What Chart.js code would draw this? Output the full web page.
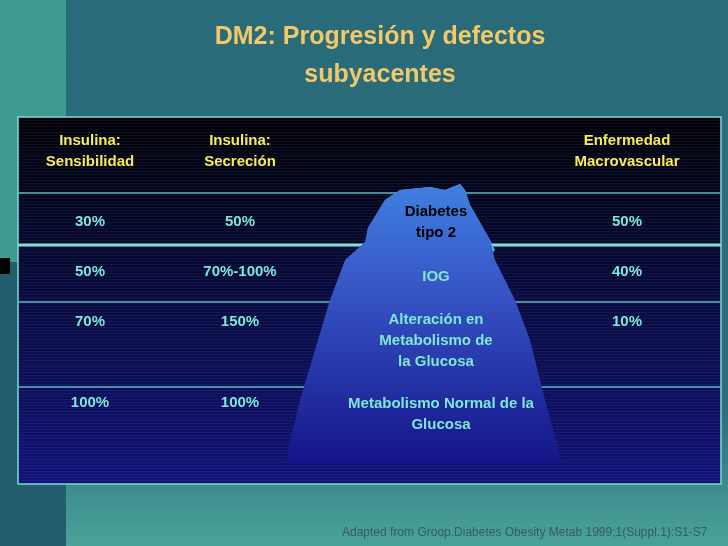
<!DOCTYPE html><html><head><meta charset="utf-8">
<script src="https://cdn.jsdelivr.net/npm/chart.js@4"></script>
<style>
html,body{margin:0;padding:0;width:728px;height:546px;overflow:hidden}
#bg{position:absolute;left:0;top:0;width:728px;height:546px;background:#3f9a92}
#main{position:absolute;left:66px;top:0;width:662px;height:546px;background:linear-gradient(180deg,#2a6b79 0%,#2c6e7a 75%,#4aa39a 100%)}
#left{position:absolute;left:0;top:262px;width:66px;height:284px;background:#235e6e}
#blk{position:absolute;left:0;top:258px;width:10px;height:16px;background:#000}
#wrap{position:absolute;left:0;top:0;width:728px;height:546px}
</style></head><body>
<div id="bg"></div><div id="main"></div><div id="left"></div><div id="blk"></div>
<div id="wrap"><canvas id="c" width="728" height="546"></canvas></div>
<script>
const titleLines=["DM2: Progresión y defectos","subyacentes"];
const headers=[["Insulina:","Sensibilidad"],["Insulina:","Secreción"],["Enfermedad","Macrovascular"]];
const colX=[90,240,627];
const rowY=[222,272,322,403];
const sensibilidad=["30%","50%","70%","100%"];
const secrecion=["50%","70%-100%","150%","100%"];
const macro=["50%","40%","10%",""];
const stages=[["Diabetes","tipo 2"],["IOG"],["Alteración en","Metabolismo de","la Glucosa"],["Metabolismo Normal de la","Glucosa"]];
const stageY=[212,277,320,404];
const rowLines=[193,245,302,387];
const icebergX=[285,300,318,330,345,365,368,385,400,430,445,460,465,470,490,495,515,530,545,562];
const icebergY=[463,400,340,300,260,242,228,200,190,187,190,184,190,205,240,260,300,340,400,463];
const tipX=[365,368,385,400,430,445,460,465,470,490,495,485,470,455,440,420,405,390,378,365];
const tipY=[245,228,200,190,187,190,184,190,205,240,250,262,250,260,250,262,250,268,250,245];
const pts=(xs,ys)=>xs.map((x,i)=>({x,y:ys[i]}));
const deco={id:'deco',
 beforeDatasetsDraw(ch){const c=ch.ctx,xs=ch.scales.x,ys=ch.scales.y;
  const L=xs.getPixelForValue(18),R=xs.getPixelForValue(721),T=ys.getPixelForValue(117),B=ys.getPixelForValue(484);
  const g=c.createLinearGradient(0,T,0,B);g.addColorStop(0,'#020208');g.addColorStop(0.3,'#05082a');g.addColorStop(1,'#12127a');
  c.save();c.fillStyle=g;c.fillRect(L,T,R-L,B-T);
  c.fillStyle='rgba(255,255,255,0.05)';for(let y=T;y<B;y+=3)c.fillRect(L,y,R-L,1);
  c.strokeStyle='#7fd8d8';c.lineWidth=1.5;c.strokeRect(L,T,R-L,B-T);
  rowLines.forEach((v,i)=>{const y=ys.getPixelForValue(v);c.lineWidth=i==1?3:1.5;c.strokeStyle=i==1?'#7fe0d8':'#5fb8c0';c.beginPath();c.moveTo(L,y);c.lineTo(R,y);c.stroke();});
  c.restore();},
 afterDatasetsDraw(ch){const c=ch.ctx,xs=ch.scales.x,ys=ch.scales.y;c.save();c.textAlign='center';c.textBaseline='middle';
  c.fillStyle='#f2c96a';c.font='bold 25px "Liberation Sans",Arial';
  titleLines.forEach((t,i)=>c.fillText(t,xs.getPixelForValue(380),ys.getPixelForValue(37+i*38)));
  c.font='bold 15px "Liberation Sans",Arial';c.fillStyle='#f4ec5a';
  [0,1,2].forEach(k=>{headers[k].forEach((t,i)=>c.fillText(t,xs.getPixelForValue(colX[k]),ys.getPixelForValue(141+i*21)));});
  c.fillStyle='#7fe8d6';
  rowY.forEach((y,r)=>{[sensibilidad,secrecion,macro].forEach((arr,k)=>c.fillText(arr[r],xs.getPixelForValue(colX[k]),ys.getPixelForValue(y)));});
  stages.forEach((lines,s)=>{c.fillStyle=s==0?'#000':'#7fe8d6';lines.forEach((t,i)=>c.fillText(t,xs.getPixelForValue(s==3?441:436),ys.getPixelForValue(stageY[s]+i*21)));});
  c.font='12px "Liberation Sans",Arial';c.fillStyle='#3a5a66';c.textAlign='left';
  c.fillText('Adapted from Groop.Diabetes Obesity Metab 1999;1(Suppl.1):S1-S7',xs.getPixelForValue(342),ys.getPixelForValue(533));
  c.restore();}};
new Chart(document.getElementById('c'),{type:'scatter',
 data:{datasets:[
  {data:pts(icebergX,icebergY),showLine:true,pointRadius:0,borderWidth:0,fill:'shape',
   backgroundColor:(ctx)=>{const a=ctx.chart.chartArea;if(!a)return '#3050c0';const g=ctx.chart.ctx.createLinearGradient(0,a.top+184,0,a.top+463);g.addColorStop(0,'#3f80e0');g.addColorStop(0.35,'#3858c8');g.addColorStop(1,'#141488');return g;}},
  {data:pts(tipX,tipY),showLine:true,pointRadius:0,borderWidth:0,fill:'shape',backgroundColor:'#5aa8ee'}]},
 options:{responsive:false,animation:false,layout:{padding:0},
  plugins:{legend:{display:false},tooltip:{enabled:false}},
  scales:{x:{type:'linear',min:0,max:728,display:false},y:{type:'linear',min:0,max:546,reverse:true,display:false}}},
 plugins:[deco]});
</script></body></html>
